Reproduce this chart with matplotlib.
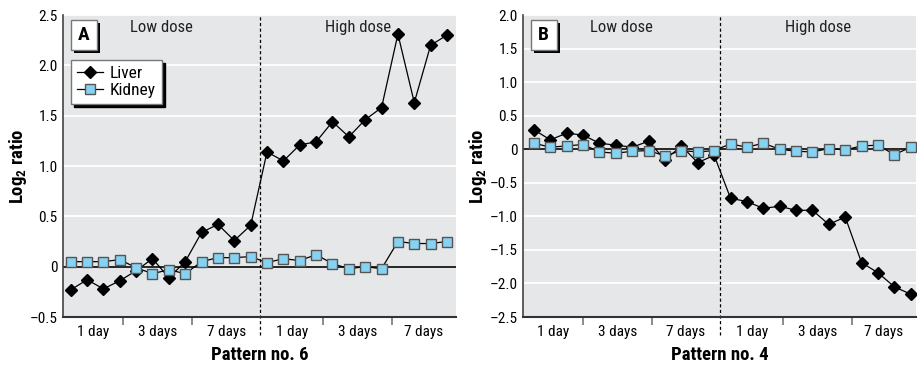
import numpy as np
import matplotlib
matplotlib.use("Agg")
import matplotlib.pyplot as plt
from matplotlib.patches import Rectangle
from matplotlib.ticker import FuncFormatter, FixedLocator

FONTS = ["Roboto Condensed", "Archivo Narrow", "Liberation Sans Narrow", "DejaVu Sans"]
plt.rcParams["font.family"] = FONTS
plt.rcParams["mathtext.fontset"] = "custom"
plt.rcParams["mathtext.bf"] = "Roboto Condensed:bold"
plt.rcParams["mathtext.rm"] = "Roboto Condensed"

# data: 24 samples, 4 per time point, low dose then high dose
group_labels = ["1 day", "3 days", "7 days", "1 day", "3 days", "7 days"]

liver_a = [-0.23, -0.13, -0.22, -0.14, -0.04, 0.08, -0.11, 0.05, 0.34, 0.42, 0.26, 0.41,
           1.14, 1.05, 1.21, 1.24, 1.44, 1.29, 1.46, 1.58, 2.31, 1.63, 2.20, 2.30]
kidney_a = [0.05, 0.05, 0.05, 0.07, -0.01, -0.07, -0.03, -0.07, 0.05, 0.09, 0.09, 0.10,
            0.04, 0.08, 0.06, 0.12, 0.03, -0.02, 0.00, -0.02, 0.25, 0.23, 0.23, 0.25]

liver_b = [0.29, 0.14, 0.24, 0.21, 0.09, 0.06, 0.03, 0.12, -0.16, 0.05, -0.20, -0.09,
           -0.73, -0.78, -0.88, -0.85, -0.91, -0.91, -1.12, -1.01, -1.69, -1.84, -2.05, -2.16]
kidney_b = [0.09, 0.03, 0.05, 0.07, -0.04, -0.06, -0.03, -0.02, -0.10, -0.02, -0.04, -0.02,
            0.08, 0.03, 0.09, 0.00, -0.03, -0.04, 0.01, -0.01, 0.05, 0.06, -0.08, 0.03]

BG = "#e6e7e8"
BLUE = "#87d1f1"
SEP_FRAC = [0.153, 0.327, 0.661, 0.836]   # group separator ticks (axes fraction)
DOSE_FRAC = 0.502                          # low/high dose divider


def fmt_y(v, pos):
    if abs(v) < 1e-9:
        return "0"
    return f"{v:.1f}".replace("-", "\u2013")


def draw_panel(ax, liver, kidney, xlim, ylim, letter, xlabel, legend=False):
    x = np.arange(len(liver))
    ax.set_facecolor(BG)
    ax.set_xlim(xlim)
    ax.set_ylim(ylim)
    ax.yaxis.set_major_locator(FixedLocator(np.arange(ylim[0], ylim[1] + 0.01, 0.5)))
    ax.yaxis.set_major_formatter(FuncFormatter(fmt_y))
    ax.yaxis.grid(True, color="white", lw=1.3)
    ax.set_axisbelow(True)
    ax.axhline(0, color="black", lw=1.2, zorder=2)

    l1, = ax.plot(x, liver, color="black", lw=0.9, marker="D", ms=6.3,
                  mfc="black", mec="black", zorder=3, label="Liver")
    l2, = ax.plot(x, kidney, color="black", lw=0.9, marker="s", ms=6.8,
                  mfc=BLUE, mec="#555555", mew=1.0, zorder=4, label="Kidney")

    span = xlim[1] - xlim[0]
    to_data = lambda f: xlim[0] + f * span
    ax.axvline(to_data(DOSE_FRAC), ymin=-0.06, ymax=1, color="black", lw=0.9,
               ls=(0, (2.5, 2)), clip_on=False, zorder=2)

    bounds = [0.0, SEP_FRAC[0], SEP_FRAC[1], DOSE_FRAC, SEP_FRAC[2], SEP_FRAC[3], 1.0]
    centers = [(bounds[i] + bounds[i + 1]) / 2 for i in range(len(group_labels))]
    ax.set_xticks([to_data(f) for f in SEP_FRAC])
    ax.set_xticklabels([])
    ax.tick_params(axis="x", which="major", length=6, width=1.2, color="#777777", direction="out")
    ax.set_xticks([to_data(f) for f in centers], minor=True)
    ax.set_xticklabels(group_labels, minor=True, fontsize=11)
    ax.tick_params(axis="x", which="minor", length=0, pad=5.5)
    ax.tick_params(axis="y", length=0, pad=4, labelsize=11)

    for s in ["top", "right"]:
        ax.spines[s].set_visible(False)
    ax.spines["left"].set_color("#444444")
    ax.spines["left"].set_linewidth(1.2)
    ax.spines["bottom"].set_color("#333333")
    ax.spines["bottom"].set_linewidth(1.5)

    ax.text(0.249, 0.96, "Low dose", transform=ax.transAxes, ha="center", va="center",
            fontsize=12, color="#222222")
    ax.text(0.75, 0.96, "High dose", transform=ax.transAxes, ha="center", va="center",
            fontsize=12, color="#222222")

    # letter box with hard shadow
    bx, by, bw, bh = 0.019, 0.884, 0.066, 0.099
    ax.add_patch(Rectangle((bx + 0.008, by - 0.011), bw, bh, transform=ax.transAxes,
                           facecolor="black", edgecolor="none", clip_on=False, zorder=6))
    ax.add_patch(Rectangle((bx, by), bw, bh, transform=ax.transAxes,
                           facecolor="white", edgecolor="#777777", lw=1, clip_on=False, zorder=7))
    ax.text(bx + bw / 2, by + bh / 2, letter, transform=ax.transAxes, ha="center", va="center",
            fontsize=14, fontweight="bold", zorder=8)

    ax.set_ylabel(r"Log$_\mathbf{2}$ ratio", fontsize=13.5, fontweight="bold")
    ax.yaxis.set_label_coords(-0.088, 0.5)
    ax.set_xlabel(xlabel, fontsize=13.5, fontweight="bold")
    ax.xaxis.set_label_coords(0.5, -0.097)

    if legend:
        leg = ax.legend([l1, l2], ["Liver", "Kidney"], loc="upper left",
                        bbox_to_anchor=(0.019, 0.851), borderaxespad=0, fancybox=False,
                        edgecolor="#777777", framealpha=1, fontsize=12.5,
                        shadow={"color": "black", "alpha": 1},
                        handlelength=1.5, handletextpad=0.4, borderpad=0.35,
                        labelspacing=0.1)
        leg.get_frame().set_linewidth(1)
        leg.set_zorder(9)


fig = plt.figure(figsize=(9.19, 3.67), dpi=100)
ax_a = fig.add_axes([0.0689, 0.1362, 0.4273, 0.8229])
ax_b = fig.add_axes([0.5694, 0.1362, 0.4273, 0.8229])

draw_panel(ax_a, liver_a, kidney_a, (-0.45, 23.55), (-0.5, 2.5), "A", "Pattern no. 6", legend=True)
draw_panel(ax_b, liver_b, kidney_b, (-0.65, 23.32), (-2.5, 2.0), "B", "Pattern no. 4")

fig.savefig("out.png", dpi=100)
